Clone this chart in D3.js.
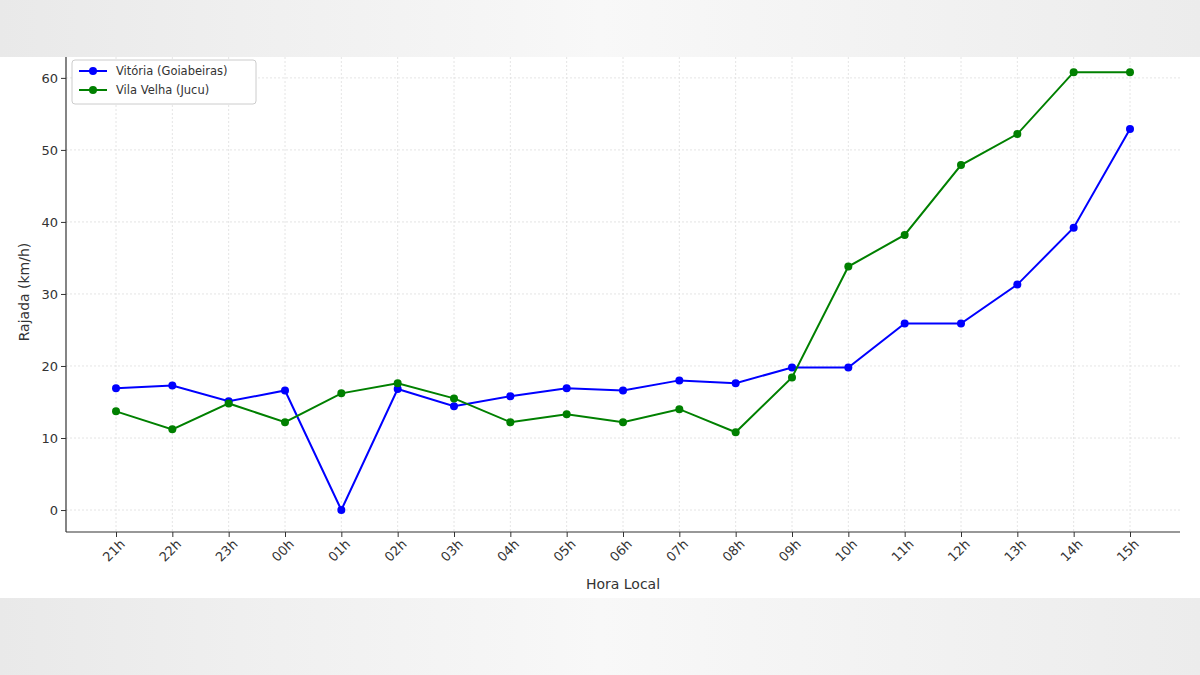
<!DOCTYPE html>
<html><head><meta charset="utf-8">
<script src="https://cdn.jsdelivr.net/npm/d3@7"></script>
<style>body{margin:0;background:#f3f3f3}svg{display:block}</style>
</head><body><svg id="c" width="1200" height="675"></svg>
<script>
const hours=["21h","22h","23h","00h","01h","02h","03h","04h","05h","06h","07h","08h","09h","10h","11h","12h","13h","14h","15h"];
const vitoria=[16.9,17.3,15.1,16.6,0,16.8,14.4,15.8,16.9,16.6,18,17.6,19.8,19.8,25.9,25.9,31.3,39.2,52.9];
const vilaVelha=[13.7,11.2,14.8,12.2,16.2,17.6,15.5,12.2,13.3,12.2,14,10.8,18.4,33.8,38.2,47.9,52.2,60.8,60.8];
const yTicks=[0,10,20,30,40,50,60];
const seriesNames=["Vitória (Goiabeiras)","Vila Velha (Jucu)"];
const colors=["#0000ff","#008000"];

const svg=d3.select("#c");
const defs=svg.append("defs");
const g1=defs.append("linearGradient").attr("id","bg").attr("x1",0).attr("x2",1);
g1.append("stop").attr("offset",0).attr("stop-color","#e9e9e9");
g1.append("stop").attr("offset",0.5).attr("stop-color","#f8f8f8");
g1.append("stop").attr("offset",1).attr("stop-color","#ececec");
svg.append("rect").attr("width",1200).attr("height",675).attr("fill","url(#bg)");
svg.append("rect").attr("y",57).attr("width",1200).attr("height",541).attr("fill","#fff");

const L=66,R=1180,T=57,B=532;
const x=d3.scalePoint().domain(hours).range([116,1130]);
const y=d3.scaleLinear().domain([-3.05,62.9]).range([B,T]);

// grid
svg.append("g").selectAll("line").data(hours).join("line")
 .attr("x1",d=>x(d)).attr("x2",d=>x(d)).attr("y1",T).attr("y2",B)
 .attr("stroke","#ddd").attr("stroke-width",0.8).attr("stroke-dasharray","2,2");
svg.append("g").selectAll("line").data(yTicks).join("line")
 .attr("x1",L).attr("x2",R).attr("y1",d=>y(d)).attr("y2",d=>y(d))
 .attr("stroke","#ddd").attr("stroke-width",0.8).attr("stroke-dasharray","2,2");

// axes
const xa=svg.append("g").attr("transform",`translate(0,${B})`)
 .call(d3.axisBottom(x).tickSizeOuter(0).tickSize(5));
xa.select(".domain").remove();
xa.append("line").attr("x1",L).attr("x2",R).attr("stroke","#333").attr("stroke-width",1.2);
xa.selectAll(".tick line").attr("stroke","#333");
xa.selectAll(".tick text").attr("font-family","DejaVu Sans").attr("font-size",13).attr("fill","#333")
 .attr("text-anchor","end").attr("dx","-0.2em").attr("dy","0.6em").attr("transform","rotate(-45)");
const ya=svg.append("g").attr("transform",`translate(${L},0)`)
 .call(d3.axisLeft(y).tickValues(yTicks).tickSize(5).tickSizeOuter(0));
ya.select(".domain").remove();
ya.append("line").attr("y1",T).attr("y2",B).attr("stroke","#333").attr("stroke-width",1.2);
ya.selectAll(".tick line").attr("stroke","#333");
ya.selectAll(".tick text").attr("font-family","DejaVu Sans").attr("font-size",13).attr("fill","#333");

svg.append("text").attr("x",623).attr("y",589).attr("text-anchor","middle")
 .attr("font-family","DejaVu Sans").attr("font-size",14).attr("fill","#333").text("Hora Local");
svg.append("text").attr("transform","translate(29,292) rotate(-90)").attr("text-anchor","middle")
 .attr("font-family","DejaVu Sans").attr("font-size",14).attr("fill","#333").text("Rajada (km/h)");

const line=d3.line().x((d,i)=>x(hours[i])).y(d=>y(d));
[vitoria,vilaVelha].forEach((s,k)=>{
 svg.append("path").attr("d",line(s)).attr("fill","none").attr("stroke",colors[k]).attr("stroke-width",2);
 svg.append("g").selectAll("circle").data(s).join("circle")
  .attr("cx",(d,i)=>x(hours[i])).attr("cy",d=>y(d)).attr("r",4).attr("fill",colors[k]);
});

// legend
const lg=svg.append("g").attr("transform","translate(72,60)");
lg.append("rect").attr("width",184).attr("height",44).attr("rx",3).attr("fill","#fff").attr("stroke","#ccc");
seriesNames.forEach((n,k)=>{
 const yy=11+k*19;
 lg.append("line").attr("x1",7).attr("x2",35).attr("y1",yy).attr("y2",yy).attr("stroke",colors[k]).attr("stroke-width",2);
 lg.append("circle").attr("cx",21).attr("cy",yy).attr("r",4).attr("fill",colors[k]);
 lg.append("text").attr("x",44).attr("y",yy+4).attr("font-family","DejaVu Sans").attr("font-size",11.5).attr("fill","#333").text(n);
});
</script></body></html>
